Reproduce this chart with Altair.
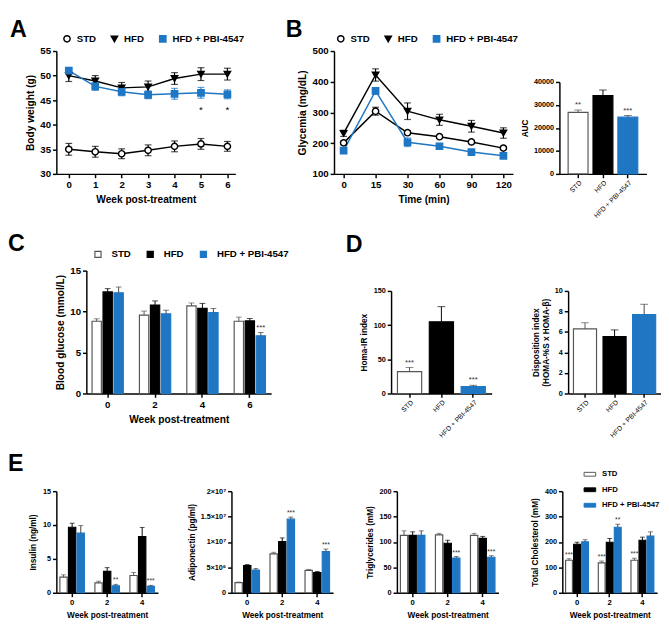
import altair as alt
import pandas as pd

FONT = "Liberation Sans"
BLUE = "#1f77c4"
GROUPS = ["STD", "HFD", "HFD + PBI-4547"]
LINE_COLORS = ["black", "black", BLUE]
POINT_FILLS = ["white", "black", BLUE]
SHAPES = ["circle", "triangle-down", "square"]
BAR_FILLS = ["white", "black", BLUE]
BAR_STROKES = ["#555555", "black", BLUE]
ERR_COLORS = ["#555555", "black", "#444444"]

# ---------------- Panel A: body weight ----------------
weeks_a = [0, 1, 2, 3, 4, 5, 6]
bw_std = [35.0, 34.5, 34.1, 34.8, 35.6, 36.1, 35.6]
bw_std_err = [1.2, 1.1, 1.0, 1.1, 1.1, 1.1, 1.0]
bw_hfd = [50.0, 48.9, 47.5, 47.7, 49.4, 50.3, 50.3]
bw_hfd_err = [1.2, 1.1, 1.1, 1.2, 1.2, 1.3, 1.2]
bw_pbi = [51.0, 47.8, 46.7, 46.1, 46.3, 46.5, 46.2]
bw_pbi_err = [0.6, 0.8, 0.8, 0.8, 1.1, 1.1, 0.9]
bw_sig_pbi = ["", "", "", "", "", "*", "*"]

# ---------------- Panel B: glycemia (GTT) ----------------
times_b = ["0", "15", "30", "60", "90", "120"]
gly_std = [201, 304, 234, 221, 204, 184]
gly_std_err = [6, 13, 6, 5, 5, 5]
gly_hfd = [232, 422, 304, 276, 255, 233]
gly_hfd_err = [10, 20, 27, 18, 19, 17]
gly_pbi = [176, 370, 203, 190, 171, 159]
gly_pbi_err = [5, 10, 14, 5, 5, 5]

auc = [26800, 34100, 24700]
auc_err = [1000, 2400, 700]
auc_sig = ["**", "", "***"]

# ---------------- Panel C: blood glucose ----------------
weeks_c = ["0", "2", "4", "6"]
bg_std = [8.82, 9.56, 10.7, 8.82]
bg_std_err = [0.3, 0.5, 0.35, 0.5]
bg_hfd = [12.4, 10.8, 10.4, 8.86]
bg_hfd_err = [0.4, 0.5, 0.6, 0.3]
bg_pbi = [12.3, 9.72, 9.88, 7.05]
bg_pbi_err = [0.7, 0.45, 0.5, 0.4]
bg_sig_pbi = ["", "", "", "***"]

# ---------------- Panel D ----------------
homa = [32, 105, 10]
homa_err = [6, 22, 2]
homa_sig = ["***", "", "***"]
disp = [6.3, 5.55, 7.7]
disp_err = [0.6, 0.65, 1.0]
disp_sig = ["", "", ""]

# ---------------- Panel E ----------------
weeks_e = ["0", "2", "4"]
ins_std = [2.3, 1.46, 2.55]
ins_std_err = [0.35, 0.25, 0.45]
ins_hfd = [9.67, 3.16, 8.3]
ins_hfd_err = [0.6, 0.55, 1.35]
ins_pbi = [8.82, 1.04, 0.94]
ins_pbi_err = [1.1, 0.2, 0.15]
ins_sig_pbi = ["", "**", "***"]

adipo_std = [2.0e6, 7.67e6, 4.4e6]
adipo_std_err = [1e5, 3e5, 2e5]
adipo_hfd = [5.35e6, 1.01e7, 4.0e6]
adipo_hfd_err = [2e5, 7e5, 2e5]
adipo_pbi = [4.47e6, 1.45e7, 8.1e6]
adipo_pbi_err = [3e5, 4e5, 5e5]
adipo_sig_pbi = ["", "***", "***"]

tg_std = [113, 114, 113]
tg_std_err = [9, 3, 4]
tg_hfd = [113, 97.5, 107]
tg_hfd_err = [7, 6, 4]
tg_pbi = [113, 68.5, 70]
tg_pbi_err = [9, 3, 3]
tg_sig_pbi = ["", "***", "***"]

chol_std = [128, 118, 128]
chol_std_err = [6, 7, 8]
chol_sig_std = ["***", "***", "***"]
chol_hfd = [191, 199, 207]
chol_hfd_err = [8, 15, 12]
chol_pbi = [201, 258, 223]
chol_pbi_err = [8, 12, 17]
chol_sig_pbi = ["", "**", ""]

RES = dict(color="independent", shape="independent", fill="independent",
           stroke="independent", xOffset="independent")


def hcat(*charts, spacing):
    return alt.hconcat(*charts, spacing=spacing).resolve_scale(**RES)


def vcat(*charts, spacing):
    return alt.vconcat(*charts, spacing=spacing).resolve_scale(**RES)


def nosig(n):
    return [""] * n


def long_df(xs, vals, errs, sigs):
    rows = []
    for g, vl, el, sl in zip(GROUPS, vals, errs, sigs):
        for x, v, e, s in zip(xs, vl, el, sl):
            rows.append({"x": x, "group": g, "v": v, "lo": v - e, "hi": v + e, "sig": s})
    return pd.DataFrame(rows)


def letter(t, dx, offset):
    return alt.TitleParams(text=t, anchor="start", frame="group", fontSize=24,
                           fontWeight="bold", font=FONT, color="black", dx=dx,
                           offset=offset)


def line_panel(df, x_enc, y_scale, y_axis, w, h, title, legend, sig_dy):
    layers = []
    for g, c in zip(GROUPS, LINE_COLORS):
        sub = alt.Chart(df).transform_filter(alt.datum.group == g)
        layers.append(sub.mark_line(color=c, strokeWidth=1.5).encode(
            x=x_enc, y=alt.Y("v:Q", scale=y_scale, axis=y_axis)))
    for g, c in zip(GROUPS, LINE_COLORS):
        sub = alt.Chart(df).transform_filter(alt.datum.group == g)
        layers.append(sub.mark_rule(color=c, strokeWidth=1.2).encode(
            x=x_enc, y=alt.Y("lo:Q", scale=y_scale, axis=y_axis), y2="hi:Q"))
        layers.append(sub.mark_tick(color=c, orient="horizontal", size=7, thickness=1.2).encode(
            x=x_enc, y=alt.Y("lo:Q", scale=y_scale, axis=y_axis)))
        layers.append(sub.mark_tick(color=c, orient="horizontal", size=7, thickness=1.2).encode(
            x=x_enc, y=alt.Y("hi:Q", scale=y_scale, axis=y_axis)))
    pts = alt.Chart(df).mark_point(size=42, strokeWidth=1.5, opacity=1, fillOpacity=1).encode(
        x=x_enc,
        y=alt.Y("v:Q", scale=y_scale, axis=y_axis),
        shape=alt.Shape("group:N", scale=alt.Scale(domain=GROUPS, range=SHAPES), legend=legend),
        color=alt.Color("group:N", scale=alt.Scale(domain=GROUPS, range=LINE_COLORS), legend=legend),
        fill=alt.Fill("group:N", scale=alt.Scale(domain=GROUPS, range=POINT_FILLS), legend=legend),
    )
    layers.append(pts)
    stars = alt.Chart(df).mark_text(dy=sig_dy, fontSize=10, font=FONT, color="black").encode(
        x=x_enc, y=alt.Y("lo:Q", scale=y_scale, axis=y_axis), text="sig:N")
    layers.append(stars)
    return alt.layer(*layers).properties(width=w, height=h, title=title)


def bar_layers(df, x, xo, y_scale, y_axis, legend, cap, sig_fs):
    enc_extra = {} if xo is None else {"xOffset": xo}
    bars = alt.Chart(df).mark_bar(strokeWidth=1.2).encode(
        x=x, y=alt.Y("v:Q", scale=y_scale, axis=y_axis),
        fill=alt.Fill("group:N", scale=alt.Scale(domain=GROUPS, range=BAR_FILLS), legend=legend),
        stroke=alt.Stroke("group:N", scale=alt.Scale(domain=GROUPS, range=BAR_STROKES), legend=legend),
        **enc_extra)
    layers = [bars]
    for g, c in zip(GROUPS, ERR_COLORS):
        sub = alt.Chart(df).transform_filter(alt.datum.group == g)
        layers.append(sub.mark_rule(color=c, strokeWidth=1).encode(
            x=x, y=alt.Y("v:Q", scale=y_scale, axis=y_axis), y2="hi:Q", **enc_extra))
        layers.append(sub.mark_tick(color=c, orient="horizontal", size=cap, thickness=1).encode(
            x=x, y=alt.Y("hi:Q", scale=y_scale, axis=y_axis), **enc_extra))
    stars = alt.Chart(df).mark_text(dy=-1, baseline="bottom", fontSize=sig_fs, font=FONT,
                                    color="#333333").encode(
        x=x, y=alt.Y("hi:Q", scale=y_scale, axis=y_axis), text="sig:N", **enc_extra)
    layers.append(stars)
    return layers


def grouped_bar(df, cats, xtitle, x_lfs, x_tfs, y_scale, y_axis, w, h, title, legend,
                pi, po, opi, opo, cap, sig_fs, x_range=None, x_title_pad=6):
    sc = dict(domain=cats, paddingInner=pi, paddingOuter=po)
    if x_range is not None:
        sc["range"] = x_range
    x = alt.X("x:N", sort=cats, scale=alt.Scale(**sc),
              axis=alt.Axis(title=xtitle, labelAngle=0, labelFontSize=x_lfs, titleFontSize=x_tfs,
                            titlePadding=x_title_pad))
    xo = alt.XOffset("group:N", sort=GROUPS,
                     scale=alt.Scale(domain=GROUPS, paddingInner=opi, paddingOuter=opo))
    layers = bar_layers(df, x, xo, y_scale, y_axis, legend, cap, sig_fs)
    ch = alt.layer(*layers).properties(width=w, height=h)
    if title is not None:
        ch = ch.properties(title=title)
    return ch


def simple_bar(vals, errs, sigs, y_scale, y_axis, w, h, title, lfs, pi, po, cap, sig_fs):
    df = pd.DataFrame({"group": GROUPS, "x": GROUPS, "v": vals,
                       "hi": [v + e for v, e in zip(vals, errs)], "sig": sigs})
    x = alt.X("group:N", sort=GROUPS,
              scale=alt.Scale(domain=GROUPS, paddingInner=pi, paddingOuter=po),
              axis=alt.Axis(title=None, labelAngle=-45, labelFontSize=lfs, labelFontWeight="normal",
                            labelPadding=1))
    layers = bar_layers(df, x, None, y_scale, y_axis, None, cap, sig_fs)
    ch = alt.layer(*layers).properties(width=w, height=h)
    if title is not None:
        ch = ch.properties(title=title)
    return ch


# ---------- build A ----------
df_a = long_df(weeks_a, [bw_std, bw_hfd, bw_pbi], [bw_std_err, bw_hfd_err, bw_pbi_err],
               [nosig(7), nosig(7), bw_sig_pbi])
leg_a = alt.Legend(orient="none", legendX=6, legendY=-18, direction="horizontal", title=None,
                   labelFontSize=10, labelFontWeight="bold", labelFont=FONT, symbolSize=42,
                   symbolStrokeWidth=1.5, columnPadding=12, labelLimit=200, labelOffset=5)
x_a = alt.X("x:Q", scale=alt.Scale(domain=[-0.47, 6.3], nice=False, zero=False),
            axis=alt.Axis(values=weeks_a, title="Week post-treatment", labelFontSize=10,
                          titleFontSize=10.5, format="d", titlePadding=6))
ax_a = alt.Axis(values=[30, 35, 40, 45, 50, 55], title="Body weight (g)", labelFontSize=10,
                titleFontSize=10.5, titlePadding=5)
chart_a = line_panel(df_a, x_a, alt.Scale(domain=[30, 55], nice=False, zero=False), ax_a,
                     185, 127, letter("A", -48, -8), leg_a, 12)

# ---------- build B ----------
df_b = long_df(times_b, [gly_std, gly_hfd, gly_pbi], [gly_std_err, gly_hfd_err, gly_pbi_err],
               [nosig(6)] * 3)
leg_b = alt.Legend(orient="none", legendX=2, legendY=-18, direction="horizontal", title=None,
                   labelFontSize=10, labelFontWeight="bold", labelFont=FONT, symbolSize=42,
                   symbolStrokeWidth=1.5, columnPadding=12, labelLimit=200, labelOffset=5)
x_b = alt.X("x:O", sort=times_b, scale=alt.Scale(type="point", domain=times_b, padding=0.3),
            axis=alt.Axis(title="Time (min)", labelAngle=0, labelFontSize=10, titleFontSize=10.5,
                          titlePadding=6))
ax_b = alt.Axis(values=[100, 200, 300, 400, 500], title="Glycemia (mg/dL)", labelFontSize=10,
                titleFontSize=10.5, titlePadding=5)
chart_b = line_panel(df_b, x_b, alt.Scale(domain=[100, 500], nice=False, zero=False), ax_b,
                     185, 127, letter("B", -50, -8), leg_b, 12)

ax_auc = alt.Axis(values=[0, 10000, 20000, 30000, 40000], format="d", title="AUC",
                  labelFontSize=7.5, titleFontSize=8.5, titlePadding=4)
chart_auc = simple_bar(auc, auc_err, auc_sig,
                       alt.Scale(domain=[0, 40000], range=[127, 32], nice=False), ax_auc,
                       90, 127, None, 7, 0.2, 0.35, 8, 8)

row1 = hcat(hcat(chart_a, chart_b, spacing=42), chart_auc, spacing=2)

# ---------- build C ----------
df_c = long_df(weeks_c, [bg_std, bg_hfd, bg_pbi], [bg_std_err, bg_hfd_err, bg_pbi_err],
               [nosig(4), nosig(4), bg_sig_pbi])
leg_c = alt.Legend(orient="none", legendX=38, legendY=-22, direction="horizontal", title=None,
                   labelFontSize=10, labelFontWeight="bold", labelFont=FONT, symbolSize=40,
                   symbolType="square", symbolStrokeWidth=1.2, columnPadding=14, labelLimit=200,
                   labelOffset=9)
ax_c = alt.Axis(values=[0, 5, 10, 15], title="Blood glucose (mmol/L)", labelFontSize=10,
                titleFontSize=10.5, titlePadding=5, offset=-31)
chart_c = grouped_bar(df_c, weeks_c, "Week post-treatment", 10, 10.5,
                      alt.Scale(domain=[0, 15], nice=False), ax_c, 222, 127,
                      letter("C", -50, -7), leg_c, 0.34, 0.12, 0.15, 0.0, 6, 8,
                      x_range=[31, 222])

# ---------- build D ----------
ax_homa = alt.Axis(values=[0, 50, 100, 150], title="Homa-IR index", labelFontSize=7.5,
                   titleFontSize=8.5, titlePadding=5)
chart_homa = simple_bar(homa, homa_err, homa_sig,
                        alt.Scale(domain=[0, 150], range=[127, 21], nice=False), ax_homa,
                        104, 127, letter("D", -47, 14), 7, 0.24, 0.2, 8, 8)
ax_disp = alt.Axis(values=[0, 2, 4, 6, 8, 10], title=["Disposition index", "(HOMA-%S x HOMA-\u03b2)"],
                   labelFontSize=7.5, titleFontSize=8.5, titlePadding=4)
chart_disp = simple_bar(disp, disp_err, disp_sig,
                        alt.Scale(domain=[0, 10], range=[127, 21], nice=False), ax_disp,
                        96, 127, None, 7, 0.22, 0.18, 8, 8)

row2 = hcat(chart_c, hcat(chart_homa, chart_disp, spacing=41), spacing=58)

# ---------- build E ----------
E_W, E_H = 105, 105
df_ins = long_df(weeks_e, [ins_std, ins_hfd, ins_pbi], [ins_std_err, ins_hfd_err, ins_pbi_err],
                 [nosig(3), nosig(3), ins_sig_pbi])
ax_ins = alt.Axis(values=[0, 5, 10, 15], title="Insulin (ng/ml)", labelFontSize=7.5,
                  titleFontSize=8.5, titlePadding=5)
chart_ins = grouped_bar(df_ins, weeks_e, "Week post-treatment", 8, 8.5,
                        alt.Scale(domain=[0, 15], nice=False), ax_ins, E_W, E_H,
                        letter("E", -50, 12), None, 0.3, 0.1, 0.15, 0.0, 5, 7, x_title_pad=5)

df_adipo = long_df(weeks_e, [adipo_std, adipo_hfd, adipo_pbi],
                   [adipo_std_err, adipo_hfd_err, adipo_pbi_err],
                   [nosig(3), nosig(3), adipo_sig_pbi])
adipo_expr = ("datum.value == 0 ? '0' : datum.value == 5000000 ? '5\u00d710\u2076' : "
              "datum.value == 10000000 ? '1\u00d710\u2077' : datum.value == 15000000 ? "
              "'1.5\u00d710\u2077' : '2\u00d710\u2077'")
ax_adipo = alt.Axis(values=[0, 5e6, 1e7, 1.5e7, 2e7], labelExpr=adipo_expr,
                    title="Adiponectin (pg/ml)", labelFontSize=7.5, titleFontSize=8.5,
                    titlePadding=4)
chart_adipo = grouped_bar(df_adipo, weeks_e, "Week post-treatment", 8, 8.5,
                          alt.Scale(domain=[0, 2e7], nice=False), ax_adipo, E_W, E_H,
                          None, None, 0.3, 0.1, 0.15, 0.0, 5, 7, x_title_pad=5)

df_tg = long_df(weeks_e, [tg_std, tg_hfd, tg_pbi], [tg_std_err, tg_hfd_err, tg_pbi_err],
                [nosig(3), nosig(3), tg_sig_pbi])
ax_tg = alt.Axis(values=[0, 50, 100, 150, 200], title="Triglycerides (mM)", labelFontSize=7.5,
                 titleFontSize=8.5, titlePadding=5)
chart_tg = grouped_bar(df_tg, weeks_e, "Week post-treatment", 8, 8.5,
                       alt.Scale(domain=[0, 200], nice=False), ax_tg, E_W, E_H,
                       None, None, 0.3, 0.1, 0.15, 0.0, 5, 7, x_title_pad=5)

df_chol = long_df(weeks_e, [chol_std, chol_hfd, chol_pbi],
                  [chol_std_err, chol_hfd_err, chol_pbi_err],
                  [chol_sig_std, nosig(3), chol_sig_pbi])
leg_chol = alt.Legend(orient="none", legendX=22, legendY=-24, direction="vertical", title=None,
                      labelFontSize=8, labelFontWeight="bold", labelFont=FONT, symbolSize=144,
                      symbolType="M-1,-0.33H1V0.33H-1Z", symbolStrokeWidth=1, rowPadding=5,
                      labelLimit=200, labelOffset=6)
ax_chol = alt.Axis(values=[0, 100, 200, 300, 400], title="Total Cholesterol (mM)",
                   labelFontSize=7.5, titleFontSize=8.5, titlePadding=5)
chart_chol = grouped_bar(df_chol, weeks_e, "Week post-treatment", 8, 8.5,
                         alt.Scale(domain=[0, 400], nice=False), ax_chol, 98, E_H,
                         None, leg_chol, 0.3, 0.1, 0.15, 0.0, 5, 7, x_title_pad=5)

row3 = hcat(chart_ins,
            hcat(chart_adipo, hcat(chart_tg, chart_chol, spacing=33), spacing=33),
            spacing=30)

chart = (
    vcat(row1, vcat(row2, row3, spacing=14), spacing=14)
    .properties(padding=0)
    .configure_view(stroke=None)
    .configure_axis(domainColor="black", domainWidth=1.5, tickColor="black", tickWidth=1.5,
                    tickSize=4, labelColor="black", titleColor="black", labelFont=FONT,
                    titleFont=FONT, labelFontWeight="bold", titleFontWeight="bold", grid=False,
                    labelPadding=2)
    .configure_legend(labelColor="black", labelFont=FONT)
    .configure_title(font=FONT)
)

chart.save("out.html", embed_options={"renderer": "svg", "actions": False})
